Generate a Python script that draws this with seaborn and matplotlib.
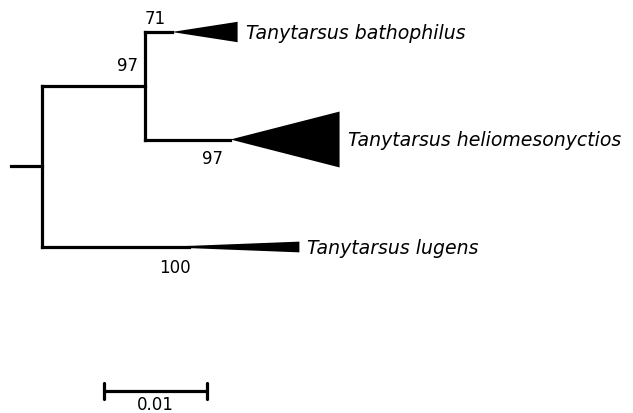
import numpy as np
import pandas as pd
import matplotlib
matplotlib.use("Agg")
import matplotlib.pyplot as plt
import seaborn as sns

sns.set_theme(style="white")
plt.rcParams['font.family'] = ['DejaVu Sans']

# ---- data (branch lengths in substitutions/site) ----
root_stub = 0.0030
internal_len = 0.0100          # root -> (bathophilus, heliomesonyctios)
stem_lens = [0.0026, 0.0083, 0.0143]   # stems to collapsed clades
clade_depths = [0.0064, 0.0106, 0.0107]
clade_widths = [0.19, 0.52, 0.10]     # relative height of collapsed triangles
taxa = ["Tanytarsus bathophilus", "Tanytarsus heliomesonyctios", "Tanytarsus lugens"]
support_tip = [71, 97, 100]
support_internal = 97
scale_len = 0.01
scale_label = "0.01"

# ---- layout ----
x0 = 0.0
x_root = x0 + root_stub
x_A = x_root + internal_len
tip_y = [0.0, 1.0, 2.0]
y_A = (tip_y[0] + tip_y[1]) / 2
y_root = (y_A + tip_y[2]) / 2
parents_x = [x_A, x_A, x_root]

segs = []
def add(sid, xs, ys):
    for x, y in zip(xs, ys):
        segs.append({"seg": sid, "x": x, "y": y})

add("stub", [x0, x_root], [y_root, y_root])
add("rootv", [x_root, x_root], [y_A, tip_y[2]])
add("int", [x_root, x_A], [y_A, y_A])
add("Av", [x_A, x_A], [tip_y[0], tip_y[1]])
for i in range(3):
    add(f"stem{i}", [parents_x[i], parents_x[i] + stem_lens[i]], [tip_y[i], tip_y[i]])
df = pd.DataFrame(segs)

fig = plt.figure(figsize=(6.33, 4.14), dpi=100)
ax = fig.add_axes([0, 0, 1, 1])
px = 0.01 / 103.0
ax.set_xlim(-11 * px, (633 - 11) * px)
unit = 107.5
ax.set_ylim((414 - 33) / unit, -33 / unit)

sns.lineplot(data=df, x="x", y="y", units="seg", estimator=None, sort=False,
             color="black", linewidth=2.3, ax=ax, legend=False)
for ln in ax.lines:
    ln.set_solid_capstyle("projecting")

for i in range(3):
    xs = parents_x[i] + stem_lens[i]
    xe = xs + clade_depths[i]
    if i == 2:
        xs_tri = xs - 0.0028
        ax.fill([xs_tri, xe, xe], [tip_y[i], tip_y[i] - clade_widths[i] / 2, tip_y[i] + clade_widths[i] / 2],
                color="black", lw=0)
    else:
        ax.fill([xs, xe, xe], [tip_y[i], tip_y[i] - clade_widths[i] / 2, tip_y[i] + clade_widths[i] / 2],
                color="black", lw=0)
    ax.text(xe + 8 * px, tip_y[i], taxa[i], style="italic", fontsize=13.6,
            va="center", ha="left", color="black")

# support labels
fs = 12
ax.text(x_A + 10 * px, tip_y[0] - 0.13, str(support_tip[0]), fontsize=fs, ha="center", va="center", color="black")
ax.text(x_A - 17 * px, y_A - 0.19, str(support_internal), fontsize=fs, ha="center", va="center", color="black")
ax.text(x_A + 68 * px, tip_y[1] + 0.17, str(support_tip[1]), fontsize=fs, ha="center", va="center", color="black")
ax.text(x_root + 133 * px, tip_y[2] + 0.19, str(support_tip[2]), fontsize=fs, ha="center", va="center", color="black")

# scale bar
sx0 = 93 * px
sy = (392 - 33) / unit
sb = pd.DataFrame({"seg": ["h", "h", "l", "l", "r", "r"],
                   "x": [sx0, sx0 + scale_len, sx0, sx0, sx0 + scale_len, sx0 + scale_len],
                   "y": [sy, sy, sy - 0.07, sy + 0.07, sy - 0.07, sy + 0.07]})
sns.lineplot(data=sb, x="x", y="y", units="seg", estimator=None, sort=False,
             color="black", linewidth=2.3, ax=ax, legend=False)
ax.text(sx0 + scale_len / 2, (405 - 33) / unit, scale_label, fontsize=fs, ha="center", va="center", color="black")

ax.set_axis_off()
fig.savefig("out.png", dpi=100)
